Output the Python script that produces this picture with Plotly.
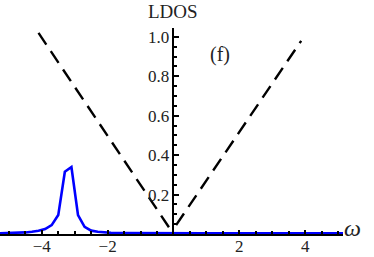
import plotly.graph_objects as go

blue_x = [-5.3, -4.9, -4.5, -4.3, -4.1, -3.9, -3.7, -3.5, -3.3, -3.1, -2.9, -2.7, -2.5, -2.3, -2.1, -1.9, -1.5, -1.0, 0.0, 1.0, 2.0, 3.0, 4.0, 5.2]
blue_y = [0.004, 0.005, 0.008, 0.011, 0.016, 0.025, 0.045, 0.096, 0.316, 0.340, 0.096, 0.036, 0.017, 0.011, 0.008, 0.006, 0.005, 0.004, 0.003, 0.003, 0.003, 0.003, 0.003, 0.003]

# Dashed V-shaped reference line
dash_left_x = [-4.1, -0.2, -0.08, -0.02]
dash_left_y = [1.02, 0.045, 0.02, 0.012]
dash_right_x = [0.08, 3.88]
dash_right_y = [0.045, 0.98]

x_tick_vals = [-4, -2, 2, 4]
x_tick_text = ["−4", "−2", "2", "4"]
y_tick_vals = [0.2, 0.4, 0.6, 0.8, 1.0]
y_tick_text = ["0.2", "0.4", "0.6", "0.8", "1.0"]

x_range = [-5.27, 5.15]
y_range = [0, 1.045]

fig = go.Figure()
fig.add_trace(go.Scatter(x=dash_left_x, y=dash_left_y, mode="lines",
                         line=dict(color="black", width=2.4, dash="14px,8px")))
fig.add_trace(go.Scatter(x=dash_right_x, y=dash_right_y, mode="lines",
                         line=dict(color="black", width=2.4, dash="14px,8px")))
fig.add_trace(go.Scatter(x=blue_x, y=blue_y, mode="lines",
                         line=dict(color="#0000ff", width=2.6)))

font_family = "Liberation Serif"
ypos = (0 - x_range[0]) / (x_range[1] - x_range[0])

fig.update_layout(
    width=374, height=257,
    margin=dict(l=0, r=31, t=28, b=23),
    paper_bgcolor="white", plot_bgcolor="white",
    showlegend=False,
    font=dict(family=font_family, size=17, color="#222"),
    xaxis=dict(range=x_range, showgrid=False, zeroline=False,
               showline=True, linecolor="black", linewidth=1.6,
               ticks="inside", ticklen=4.5, tickwidth=1.8, tickcolor="black",
               tickvals=x_tick_vals, ticktext=x_tick_text,
               ticklabelstandoff=-4,
               minor=dict(dtick=0.5, tick0=0, ticks="inside", ticklen=3, tickwidth=1.8, tickcolor="black", showgrid=False),
               tickfont=dict(family=font_family, size=17, color="#222"),
               automargin=False, fixedrange=True),
    yaxis=dict(range=y_range, showgrid=False, zeroline=False,
               anchor="free", position=ypos,
               showline=True, linecolor="black", linewidth=1.6,
               ticks="inside", ticklen=4.5, tickwidth=1.8, tickcolor="black",
               tickvals=y_tick_vals, ticktext=y_tick_text,
               minor=dict(dtick=0.05, tick0=0, ticks="inside", ticklen=3, tickwidth=1.8, tickcolor="black", showgrid=False),
               tickfont=dict(family=font_family, size=17, color="#222"),
               automargin=False, fixedrange=True),
    annotations=[
        dict(text="LDOS", xref="paper", yref="paper", x=0.503, y=1.0825,
             showarrow=False, font=dict(family=font_family, size=19, color="#222"),
             xanchor="center", yanchor="middle"),
        dict(text="ω", xref="paper", yref="paper", x=1.029, y=0.03,
             showarrow=False, font=dict(family=font_family, size=24, color="#222", style="italic"),
             xanchor="center", yanchor="middle"),
        dict(text="(f)", xref="x", yref="y", x=1.41, y=0.91,
             showarrow=False, font=dict(family=font_family, size=20, color="#222"),
             xanchor="center", yanchor="middle"),
    ],
)

fig.write_html("out.html", config={"displayModeBar": False},
               post_script="document.body.style.margin='0px';document.body.style.padding='0px';")
